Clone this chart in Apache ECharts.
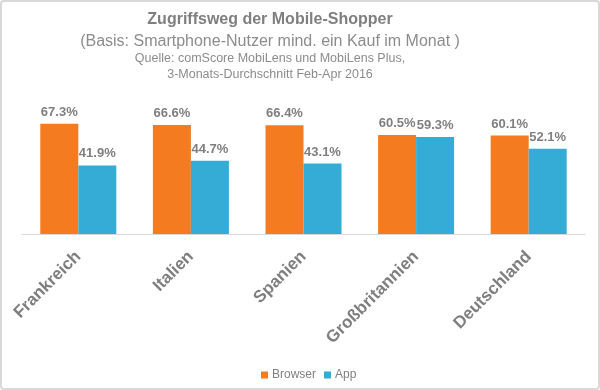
<!DOCTYPE html>
<html>
<head>
<meta charset="utf-8">
<script src="https://cdn.jsdelivr.net/npm/echarts@6/dist/echarts.min.js"></script>
<style>
html,body{margin:0;padding:0;background:#fff;}
#c{position:absolute;left:0;top:0;width:600px;height:390px;}
#b{position:absolute;left:0;top:0;width:600px;height:390px;box-sizing:border-box;border:2px solid #d9d9d9;border-radius:4px;pointer-events:none;}
</style>
</head>
<body>
<div id="c"></div>
<div id="b"></div>
<script>
const categories = ['Frankreich', 'Italien', 'Spanien', 'Großbritannien', 'Deutschland'];
const browser = [67.3, 66.6, 66.4, 60.5, 60.1];
const app = [41.9, 44.7, 43.1, 59.3, 52.1];
const titleLines = [
  'Zugriffsweg der Mobile-Shopper',
  '(Basis: Smartphone-Nutzer mind. ein Kauf im Monat )',
  'Quelle: comScore MobiLens und MobiLens Plus,',
  '3-Monats-Durchschnitt Feb-Apr 2016'
];
const ff = '"Liberation Sans", Arial, sans-serif';
const chart = echarts.init(document.getElementById('c'));
const lbl = {
  show: true, position: 'top', distance: 5,
  formatter: p => p.value.toFixed(1) + '%',
  color: '#7f7f7f', fontSize: 13, fontWeight: 'bold', fontFamily: ff
};
chart.setOption({
  animation: false,
  graphic: [
    {type: 'text', x: 270, y: 12, style: {text: titleLines[0], fill: '#7f7f7f', font: 'bold 16px ' + ff, textAlign: 'center', textVerticalAlign: 'top'}},
    {type: 'text', x: 270, y: 34, style: {text: titleLines[1], fill: '#8c8c8c', font: '16px ' + ff, textAlign: 'center', textVerticalAlign: 'top'}},
    {type: 'text', x: 270, y: 52, style: {text: titleLines[2], fill: '#8c8c8c', font: '12.5px ' + ff, textAlign: 'center', textVerticalAlign: 'top'}},
    {type: 'text', x: 270, y: 68, style: {text: titleLines[3], fill: '#8c8c8c', font: '12.5px ' + ff, textAlign: 'center', textVerticalAlign: 'top'}}
  ],
  legend: {
    data: ['Browser', 'App'], top: 364, left: 256,
    icon: 'rect', itemWidth: 7, itemHeight: 7, itemGap: 8,
    textStyle: {color: '#7f7f7f', fontSize: 12, fontFamily: ff, padding: [0, 0, 0, -1]}
  },
  grid: {left: 22, right: 15, top: 103, bottom: 156, containLabel: false},
  xAxis: {
    type: 'category', data: categories,
    axisLine: {lineStyle: {color: '#d9d9d9', width: 1}},
    axisTick: {show: false},
    axisLabel: {rotate: 45, margin: 20, interval: 0, color: '#7f7f7f', fontSize: 17, fontWeight: 'bold', fontFamily: ff}
  },
  yAxis: {type: 'value', min: 0, max: 80, show: false, splitLine: {show: false}},
  series: [
    {name: 'Browser', type: 'bar', data: browser, itemStyle: {color: '#f47b20'}, barGap: '0%', barCategoryGap: '32.5%', label: lbl},
    {name: 'App', type: 'bar', data: app, itemStyle: {color: '#34acd6'}, barGap: '0%', barCategoryGap: '32.5%', label: lbl}
  ]
});
</script>
</body>
</html>
